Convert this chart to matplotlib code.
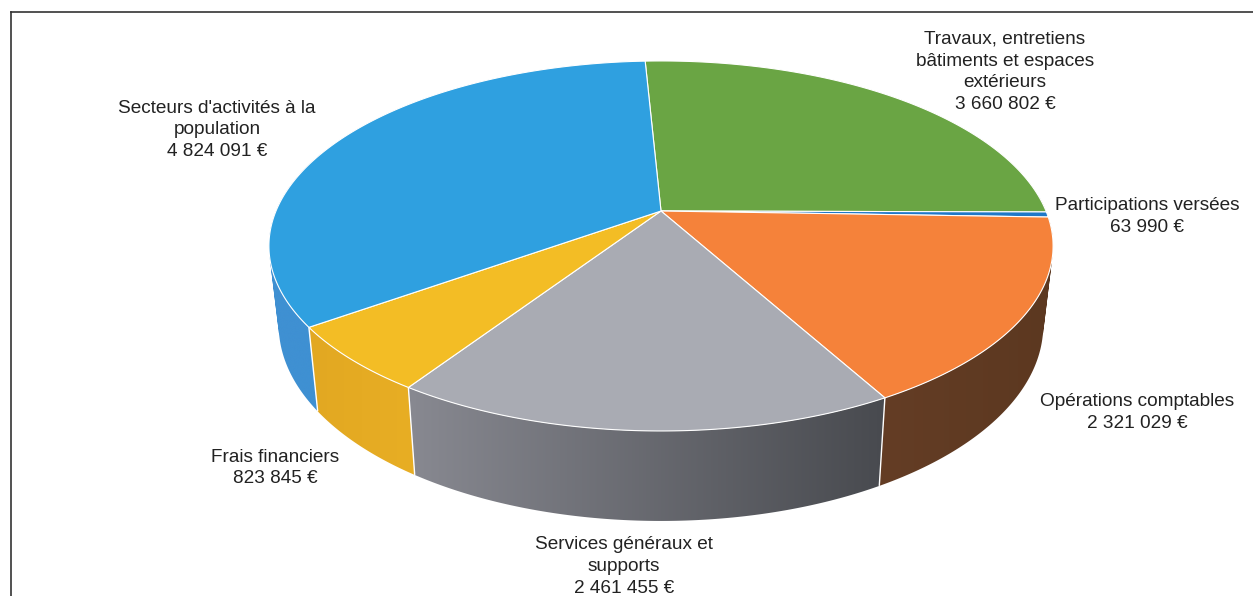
import numpy as np
import matplotlib
matplotlib.use('Agg')
import matplotlib.pyplot as plt
from matplotlib.colors import LinearSegmentedColormap
from matplotlib.patches import PathPatch
from matplotlib.path import Path

# Slices, clockwise from the top
names = ["Travaux, entretiens\nbâtiments et espaces\nextérieurs", "Participations versées",
         "Opérations comptables", "Services généraux et\nsupports", "Frais financiers",
         "Secteurs d'activités à la\npopulation"]
values = [3660802, 63990, 2321029, 2461455, 823845, 4824091]
amounts = ["3 660 802 €", "63 990 €", "2 321 029 €", "2 461 455 €", "823 845 €", "4 824 091 €"]
colors = ['#6aa544', '#1f78c8', '#f5823a', '#a9abb3', '#f3bd25', '#2fa0e0']

# Side wall colours, left and right end of each slice
side_left = ['#4c7a30', '#15558e', '#643d25', '#888991', '#e2a822', '#3f90d2']
side_right = ['#4c7a30', '#15558e', '#5c3820', '#484a4f', '#e8ae24', '#3f90d2']

# Label centres in pixels
label_x = [1005, 1147, 1137, 624, 275, 217]
label_y = [72, 216.5, 412.5, 566.5, 468, 130]

# Perspective of the pie, in pixels
cx, cy = 661, 211
A, B, K = 385, 178.4, 0.189
start_deg = -2.8


def project(deg):
    t = np.radians(deg)
    u, v = np.sin(t), np.cos(t)
    d = 1 + K * v
    return cx + A * u / d, cy - B * v / d


def extrude(x, y):
    return cx + 0.975 * (x - cx), y + 84 + (y - 328) * 0.058


def wall_path(a0, a1):
    # union of small quads, all wound the same way so none cancels out
    x, y = project(np.linspace(a0, a1, 150))
    xb, yb = extrude(x, y)
    parts = []
    for j in range(len(x) - 1):
        q = np.array([[x[j], y[j]], [x[j + 1], y[j + 1]], [xb[j + 1], yb[j + 1]], [xb[j], yb[j]]])
        area = np.sum(q[:, 0] * np.roll(q[:, 1], -1) - np.roll(q[:, 0], -1) * q[:, 1])
        if area < 0:
            q = q[::-1]
        parts.append(Path(np.vstack([q, q[0]]), closed=True))
    return Path.make_compound_path(*parts)


fig = plt.figure(figsize=(12.53, 5.96), dpi=100)
ax = fig.add_axes([0, 0, 1, 1])

# frame, only top and left survive in the scan
ax.plot([10.5, 1253], [12, 12], color='#333333', lw=1.2)
ax.plot([10.5, 10.5], [12, 596], color='#333333', lw=1.2)

edges = start_deg + np.concatenate([[0], np.cumsum(values)]) / np.sum(values) * 360

# side wall, a horizontal gradient clipped to each slice
ramp = np.linspace(0, 1, 256).reshape(1, -1)
for i in range(len(colors)):
    a0, a1 = max(edges[i], 85), min(edges[i + 1], 290)
    if a1 <= a0:
        continue
    path = wall_path(a0, a1)
    outline = PathPatch(path, transform=ax.transData, facecolor='none', edgecolor='none')
    ax.add_patch(outline)
    cmap = LinearSegmentedColormap.from_list('wall', [side_left[i], side_right[i]])
    box = path.get_extents()
    im = ax.imshow(ramp, cmap=cmap, aspect='auto', interpolation='bilinear',
                   extent=[box.x0, box.x1, box.y1, box.y0])
    im.set_clip_path(outline)

# white joints on the wall
for e in edges[3:6]:
    x0, y0 = project(e)
    x1, y1 = extrude(x0, y0)
    ax.plot([x0, x1], [y0, y1], color='white', lw=1.0, solid_capstyle='butt')

# top face
for i, col in enumerate(colors):
    a = np.linspace(edges[i], edges[i + 1], 200)
    x, y = project(a)
    ax.fill(np.r_[cx, x], np.r_[cy, y], facecolor=col, edgecolor='white', lw=0.8, joinstyle='round')

for name, amount, lx, ly in zip(names, amounts, label_x, label_y):
    ax.text(lx, ly, name + "\n" + amount, ha='center', va='center', fontsize=13.7,
            family='Liberation Sans', color='#222222', linespacing=1.37)

ax.set_xlim(0, 1253)
ax.set_ylim(596, 0)
ax.axis('off')

fig.savefig('out.png', dpi=100, facecolor='white')
